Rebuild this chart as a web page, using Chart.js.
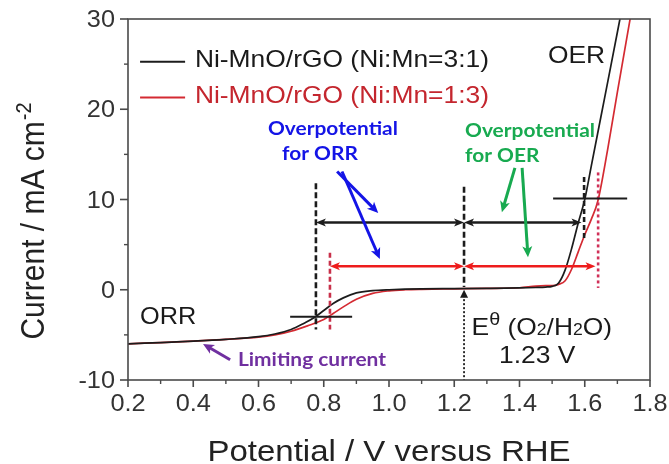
<!DOCTYPE html>
<html><head><meta charset="utf-8">
<script src="https://cdn.jsdelivr.net/npm/chart.js@4.4.0/dist/chart.umd.min.js"></script>
<style>html,body{margin:0;padding:0;background:#fff;overflow:hidden}</style>
</head><body>
<canvas id="c" width="669" height="464"></canvas>
<script>
// ---- data ----
const potential31 = [0.2,0.3,0.4,0.5,0.6,0.65,0.7,0.74,0.77,0.8,0.83,0.86,0.9,0.95,1.0,1.1,1.2,1.3,1.4,1.45,1.48,1.5,1.52,1.54,1.56,1.58,1.6,1.62,1.65,1.68,1.71];
const current31   = [-6.0,-5.85,-5.7,-5.5,-5.2,-4.9,-4.4,-3.7,-3.1,-2.3,-1.5,-0.9,-0.35,-0.1,0.0,0.1,0.12,0.15,0.2,0.25,0.3,0.38,0.75,2.2,4.6,7.4,10.0,13.7,19.25,24.8,30.4];
const potential13 = [0.2,0.3,0.4,0.5,0.6,0.65,0.7,0.75,0.8,0.83,0.86,0.9,0.95,1.0,1.05,1.1,1.2,1.3,1.4,1.45,1.48,1.5,1.52,1.54,1.56,1.58,1.6,1.62,1.64,1.67,1.7,1.74];
const current13   = [-6.0,-5.85,-5.7,-5.5,-5.25,-5.0,-4.6,-4.0,-3.3,-2.6,-1.9,-1.05,-0.4,-0.12,0.0,0.05,0.1,0.15,0.22,0.4,0.45,0.45,0.6,1.0,2.3,4.2,6.1,7.8,9.8,15.5,21.9,30.2];
const seriesLabels = ['Ni-MnO/rGO (Ni:Mn=3:1)','Ni-MnO/rGO (Ni:Mn=1:3)'];
const xTickLabels = ['0.2','0.4','0.6','0.8','1.0','1.2','1.4','1.6','1.8'];
const yTickLabels = ['-10','0','10','20','30'];
const xMinorTicks = [0.3,0.5,0.7,0.9,1.1,1.3,1.5,1.7];
const yMinorTicks = [-5,5,15,25];
const eqPotential = 1.23;

const BLACK = '#1c1c1c', RED = '#d42a32', ARROWRED = '#ee1c1c';
const SANS = '"Liberation Sans", Arial, sans-serif';
const BOLD = '"Lato", "Noto Sans", sans-serif';
const SX = 1.1;

function drawT(ctx, t, x, y, font, color, align) {
  ctx.save();
  ctx.font = font; ctx.fillStyle = color; ctx.textBaseline = 'alphabetic'; ctx.textAlign = 'left';
  const w = ctx.measureText(t).width * SX;
  let x0 = x;
  if (align === 'center') x0 = x - w / 2;
  else if (align === 'right') x0 = x - w;
  ctx.translate(x0, y); ctx.scale(SX, 1);
  ctx.fillText(t, 0, 0);
  ctx.restore();
  return w;
}
function runs(ctx, x, y, parts, color) {
  for (const p of parts) {
    x += drawT(ctx, p.t, x, y + (p.dy || 0), p.font, color, 'left');
  }
}
function seg(ctx, x1, y1, x2, y2, color, w, dash) {
  ctx.save(); ctx.strokeStyle = color; ctx.lineWidth = w; ctx.setLineDash(dash || []);
  ctx.beginPath(); ctx.moveTo(x1, y1); ctx.lineTo(x2, y2); ctx.stroke(); ctx.restore();
}
function head(ctx, x1, y1, x2, y2, color, len, wid) {
  const a = Math.atan2(y2 - y1, x2 - x1);
  ctx.save(); ctx.fillStyle = color; ctx.translate(x2, y2); ctx.rotate(a);
  ctx.beginPath(); ctx.moveTo(0, 0); ctx.lineTo(-len, -wid / 2); ctx.lineTo(-len * 0.75, 0); ctx.lineTo(-len, wid / 2); ctx.closePath(); ctx.fill();
  ctx.restore();
}
function arrow(ctx, x1, y1, x2, y2, color, w, both, len, wid) {
  len = len || 10; wid = wid || 8;
  const a = Math.atan2(y2 - y1, x2 - x1);
  const sx1 = both ? x1 + Math.cos(a) * len * 0.6 : x1, sy1 = both ? y1 + Math.sin(a) * len * 0.6 : y1;
  seg(ctx, sx1, sy1, x2 - Math.cos(a) * len * 0.6, y2 - Math.sin(a) * len * 0.6, color, w);
  head(ctx, x1, y1, x2, y2, color, len, wid);
  if (both) head(ctx, x2, y2, x1, y1, color, len, wid);
}

// annotation geometry in data coordinates
const vLines = [
  {x: 0.776, y1: 11.8, y2: -4.4, color: BLACK, w: 2.6, dash: [6, 3]},
  {x: 0.819, y1: 4.1, y2: -4.4, color: '#c8304a', w: 2.6, dash: [5, 3]},
  {x: eqPotential, y1: 11.4, y2: 0.3, color: BLACK, w: 2.6, dash: [6, 3]},
  {x: eqPotential, y1: -0.6, y2: -10, color: BLACK, w: 1.8, dash: [2, 2]},
  {x: 1.598, y1: 12.5, y2: 5.4, color: BLACK, w: 2.6, dash: [5, 3]},
  {x: 1.641, y1: 13.0, y2: 0.2, color: '#d03058', w: 2.6, dash: [3, 3]}
];
const hLines = [
  {y: -3.0, x1: 0.697, x2: 0.887, color: BLACK, w: 2},
  {y: 10.1, x1: 1.503, x2: 1.73, color: BLACK, w: 2}
];
const dblArrows = [
  {y: 7.45, x1: 0.776, x2: eqPotential, color: BLACK},
  {y: 7.45, x1: eqPotential, x2: 1.59, color: BLACK},
  {y: 2.6, x1: 0.819, x2: eqPotential, color: ARROWRED},
  {y: 2.6, x1: eqPotential, x2: 1.633, color: ARROWRED}
];
const pointers = [
  {x1: 0.841, y1: 13.1, x2: 0.967, y2: 8.5, color: '#1414e6'},
  {x1: 0.856, y1: 13.1, x2: 0.972, y2: 3.4, color: '#1414e6'},
  {x1: 1.386, y1: 13.5, x2: 1.346, y2: 8.6, color: '#18aa50'},
  {x1: 1.408, y1: 13.5, x2: 1.426, y2: 3.6, color: '#18aa50'},
  {x1: 0.513, y1: -7.75, x2: 0.43, y2: -6.0, color: '#7030a0'}
];

const annot = {
  id: 'annot',
  afterDatasetsDraw(chart) {
    const ctx = chart.ctx, X = v => chart.scales.x.getPixelForValue(v), Y = v => chart.scales.y.getPixelForValue(v);
    for (const l of vLines) seg(ctx, X(l.x), Y(l.y1), X(l.x), Y(l.y2), l.color, l.w, l.dash);
    for (const l of hLines) seg(ctx, X(l.x1), Y(l.y), X(l.x2), Y(l.y), l.color, l.w);
    for (const a of dblArrows) arrow(ctx, X(a.x1), Y(a.y), X(a.x2), Y(a.y), a.color, 2.4, true, 10, 8);
    for (const p of pointers) arrow(ctx, X(p.x1), Y(p.y1), X(p.x2), Y(p.y2), p.color, 3, false, 11, 10);
    // small triangle at E0
    ctx.save(); ctx.fillStyle = BLACK; const tx = X(eqPotential), ty = Y(-0.9);
    ctx.beginPath(); ctx.moveTo(tx, ty - 8); ctx.lineTo(tx - 4, ty); ctx.lineTo(tx + 4, ty); ctx.closePath(); ctx.fill(); ctx.restore();

    // legend
    const ds = chart.data.datasets;
    const leg = [{y: 25.26, ty: 24.65}, {y: 21.3, ty: 20.7}];
    ds.forEach((d, i) => {
      seg(ctx, X(0.237), Y(leg[i].y), X(0.375), Y(leg[i].y), d.borderColor, 2);
      drawT(ctx, d.label, X(0.405), Y(leg[i].ty), '24px ' + SANS, i === 0 ? '#1a1a1a' : '#c4262e');
    });
    // labels
    drawT(ctx, 'OER', X(1.487), Y(25.15), '24px ' + SANS, '#1a1a1a');
    drawT(ctx, 'ORR', X(0.237), Y(-3.77), '23px ' + SANS, '#1a1a1a');
    const B = 'bold 19px ' + BOLD;
    drawT(ctx, 'Overpotential', X(0.629), Y(17.2), B, '#1414e6');
    drawT(ctx, 'for ORR', X(0.672), Y(14.35), B, '#1414e6');
    drawT(ctx, 'Overpotential', X(1.233), Y(16.95), B, '#18aa50');
    drawT(ctx, 'for OER', X(1.233), Y(14.1), B, '#18aa50');
    drawT(ctx, 'Limiting current', X(0.537), Y(-8.5), B, '#7030a0');
    const F = '24px ' + SANS, Fs = '16px ' + SANS;
    runs(ctx, X(1.253), Y(-5.0), [
      {t: 'E', font: F}, {t: 'θ', font: '18px ' + SANS, dy: -10}, {t: ' (O', font: F},
      {t: '2', font: Fs}, {t: '/H', font: F}, {t: '2', font: Fs}, {t: 'O)', font: F}], '#1a1a1a');
    drawT(ctx, '1.23 V', X(1.337), Y(-8.1), F, '#1a1a1a');
  },
  afterDraw(chart) {
    const ctx = chart.ctx, a = chart.chartArea, X = v => chart.scales.x.getPixelForValue(v), Y = v => chart.scales.y.getPixelForValue(v);
    ctx.save(); ctx.strokeStyle = '#4a4a4a'; ctx.lineWidth = 1.6;
    ctx.strokeRect(a.left, a.top, a.right - a.left, a.bottom - a.top);
    xTickLabels.forEach(t => { const px = X(parseFloat(t)); seg(ctx, px, a.bottom, px, a.bottom + 7, '#4a4a4a', 1.6);
      drawT(ctx, t, px, a.bottom + 31, '23px ' + SANS, '#333', 'center'); });
    xMinorTicks.forEach(v => { const px = X(v); seg(ctx, px, a.bottom, px, a.bottom + 4, '#4a4a4a', 1.4); });
    yTickLabels.forEach(t => { const py = Y(parseFloat(t)); seg(ctx, a.left - 8, py, a.left, py, '#4a4a4a', 1.6);
      drawT(ctx, t, a.left - 13, py + 8, '23px ' + SANS, '#333', 'right'); });
    yMinorTicks.forEach(v => { const py = Y(v); seg(ctx, a.left - 4, py, a.left, py, '#4a4a4a', 1.4); });
    ctx.restore();
    // axis titles
    drawT(ctx, 'Potential / V versus RHE', (a.left + a.right) / 2, 461, '30px ' + SANS, '#222', 'center');
    ctx.save();
    ctx.font = '30px ' + SANS; const main = 'Current / mA cm', w1 = ctx.measureText(main).width;
    ctx.font = '20px ' + SANS; const w2 = ctx.measureText('-2').width;
    const total = w1 + w2 + 1;
    ctx.translate(44, 221); ctx.rotate(-Math.PI / 2); ctx.scale(1, SX);
    ctx.fillStyle = '#222'; ctx.textBaseline = 'alphabetic'; ctx.textAlign = 'left';
    ctx.font = '30px ' + SANS; ctx.fillText(main, -total / 2, 0);
    ctx.font = '20px ' + SANS; ctx.fillText('-2', -total / 2 + w1 + 1, -12);
    ctx.restore();
  }
};

const toPts = (xs, ys) => xs.map((x, i) => ({x, y: ys[i]}));
new Chart(document.getElementById('c'), {
  type: 'line',
  data: {datasets: [
    {label: seriesLabels[0], data: toPts(potential31, current31), borderColor: BLACK, borderWidth: 1.7, pointRadius: 0, cubicInterpolationMode: 'monotone', fill: false},
    {label: seriesLabels[1], data: toPts(potential13, current13), borderColor: RED, borderWidth: 1.7, pointRadius: 0, cubicInterpolationMode: 'monotone', fill: false}
  ]},
  options: {
    responsive: false, animation: false, devicePixelRatio: 1,
    layout: {padding: {left: 128, right: 19, top: 19, bottom: 84}},
    plugins: {legend: {display: false}, tooltip: {enabled: false}},
    scales: {
      x: {type: 'linear', min: 0.2, max: 1.8, display: false},
      y: {type: 'linear', min: -10, max: 30, display: false}
    }
  },
  plugins: [annot]
});
</script>
</body></html>
